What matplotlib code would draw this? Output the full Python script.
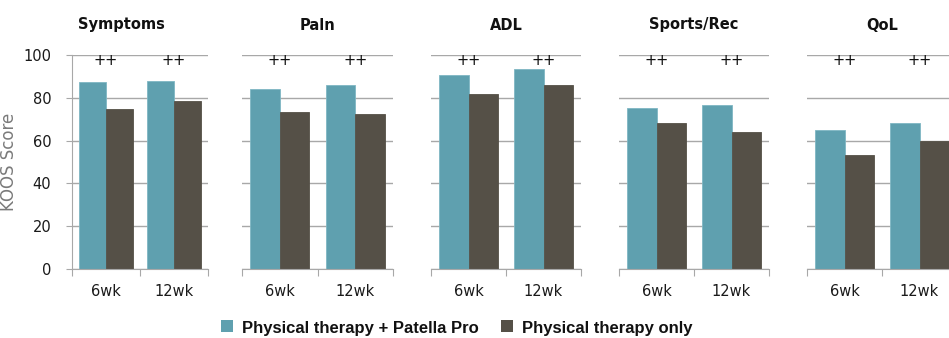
import matplotlib
matplotlib.use("Agg")
import matplotlib.pyplot as plt
from matplotlib.patches import Rectangle
import numpy as np

# KOOS subscale scores by follow-up time
subscales = ["Symptoms", "Paln", "ADL", "Sports/Rec", "QoL"]
timepoints = ["6wk", "12wk"]
pt_patella = [
    [87.2, 87.9],
    [84.0, 85.8],
    [90.5, 93.3],
    [75.1, 76.5],
    [64.8, 68.1],
]
pt_only = [
    [74.8, 78.5],
    [73.2, 72.3],
    [81.6, 85.8],
    [68.1, 63.9],
    [53.1, 59.8],
]
markers = ["++", "++"]
series_names = ["Physical therapy + Patella Pro", "Physical therapy only"]
yticks = [0, 20, 40, 60, 80, 100]

TEAL = "#5fa0af"
DARK = "#555047"
GRID = "#a8a8a8"

W, H = 949, 338
fig = plt.figure(figsize=(W / 100, H / 100), dpi=100)

# panel extents in pixels (left, right)
panels_px = [(72, 208), (242, 393), (431, 581), (619, 769), (807, 957)]
top_px, bot_px = 55, 269
title_x_px = [121, None, None, None, None]

bw = 0.39
for i, (name, (l, r)) in enumerate(zip(subscales, panels_px)):
    ax = fig.add_axes([l / W, (H - bot_px) / H, (r - l) / W, (bot_px - top_px) / H])
    x = np.arange(len(timepoints))
    ax.bar(x - bw / 2, pt_patella[i], width=bw, color=TEAL, edgecolor="#7fb7c3",
           linewidth=0.6, zorder=3)
    ax.bar(x + bw / 2, pt_only[i], width=bw, color=DARK, edgecolor=DARK,
           linewidth=0.6, zorder=3)
    for xi, m in zip(x, markers):
        ax.text(xi, 97.6, m, ha="center", va="center", fontsize=10.5,
                color="#111111", zorder=4)
    ax.set_xlim(-0.5, 1.5)
    ax.set_ylim(0, 100)
    ax.set_yticks(yticks)
    ax.yaxis.grid(True, color=GRID, linewidth=1.0, zorder=0)
    ax.set_axisbelow(True)
    for s in ["top", "right"]:
        ax.spines[s].set_visible(False)
    ax.spines["bottom"].set_color(GRID)
    ax.spines["bottom"].set_zorder(5)
    ax.set_xticks([-0.5, 0.5, 1.5])
    ax.set_xticklabels([])
    ax.set_xticks(x, minor=True)
    ax.set_xticklabels(timepoints, minor=True, fontsize=10.5, color="#1a1a1a")
    ax.tick_params(axis="x", which="major", length=5, color=GRID, direction="out")
    ax.tick_params(axis="x", which="minor", length=0, pad=11)
    if i == 0:
        ax.spines["left"].set_color(GRID)
        ax.tick_params(axis="y", length=4, color=GRID, labelsize=10.5,
                       labelcolor="#1a1a1a", pad=11)
        ax.set_ylabel("KOOS Score", fontsize=12, color="#7a7a7a")
        ax.yaxis.set_label_coords(-0.40, 0.5)
    else:
        ax.spines["left"].set_visible(False)
        ax.tick_params(axis="y", length=0, labelleft=False)
    tx = title_x_px[i] if title_x_px[i] is not None else (l + r) / 2
    fig.text(tx / W, (H - 25) / H, name, ha="center", va="center",
             fontsize=10.5, fontweight="bold", color="#111111")

# legend along the bottom edge
legend_items = [(221, TEAL), (501, DARK)]
for (sx, c), label in zip(legend_items, series_names):
    fig.patches.append(Rectangle((sx / W, (H - 332) / H), 12 / W, 12 / H,
                                 transform=fig.transFigure, facecolor=c,
                                 edgecolor="none"))
    fig.text((sx + 21) / W, (H - 333) / H, label, ha="left", va="baseline",
             fontsize=12, fontweight="bold", family="Liberation Sans",
             color="#111111")

fig.savefig("out.png", dpi=100)
